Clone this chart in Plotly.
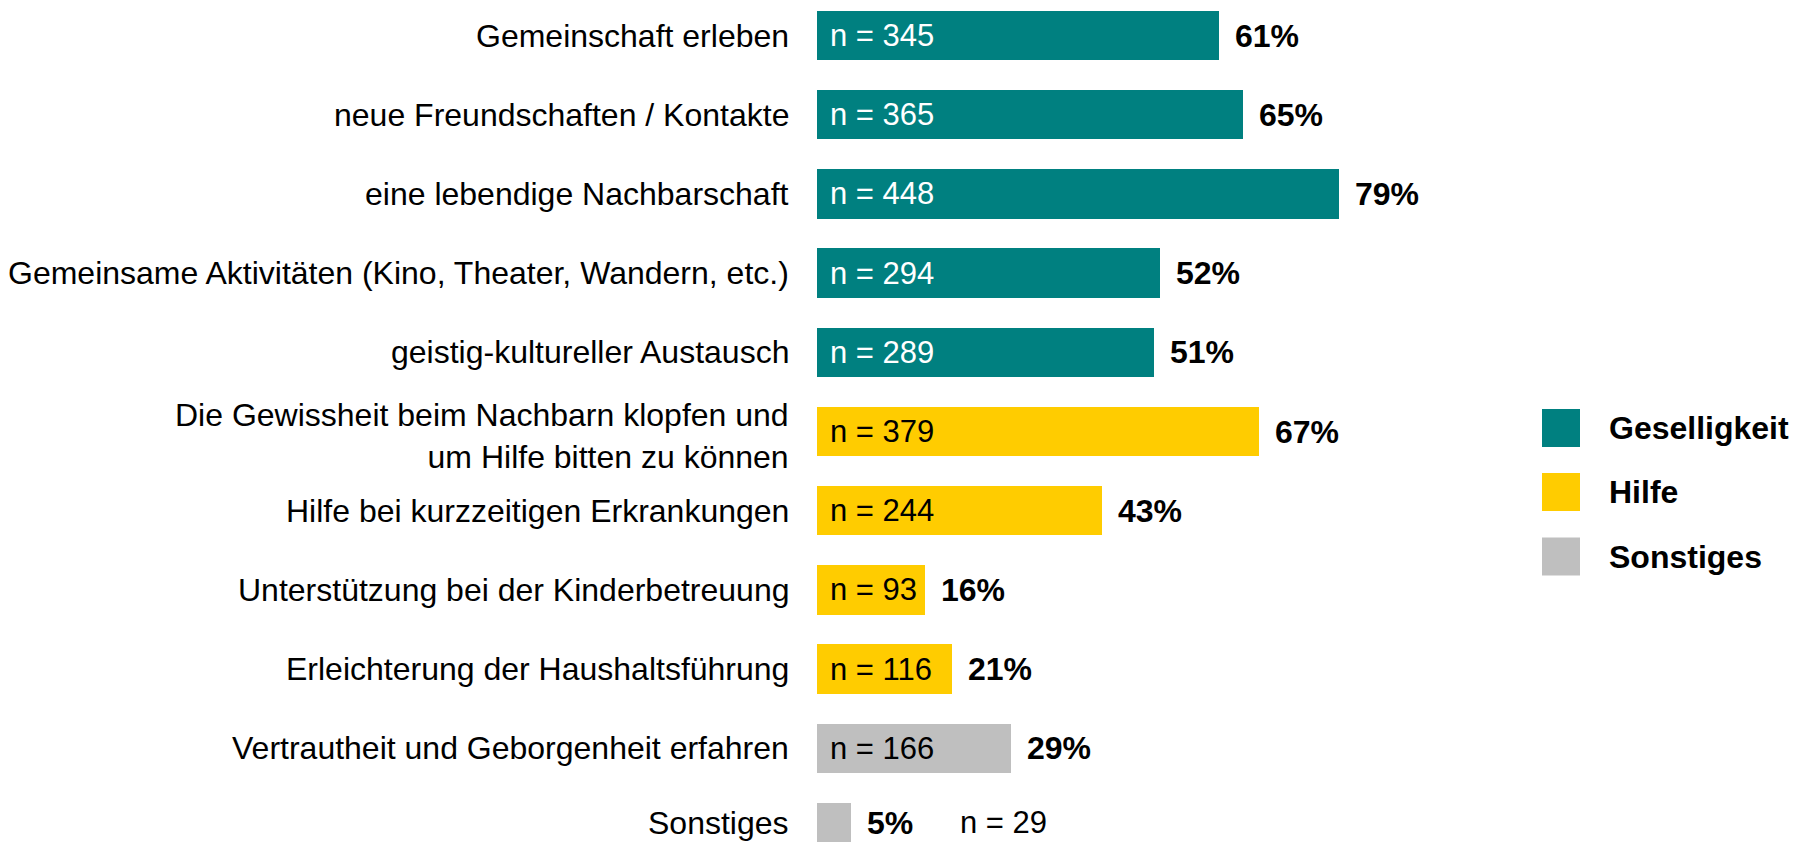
import plotly.graph_objects as go

# ---- data ----
labels = [
    "Gemeinschaft erleben",
    "neue Freundschaften / Kontakte",
    "eine lebendige Nachbarschaft",
    "Gemeinsame Aktivitäten (Kino, Theater, Wandern, etc.)",
    "geistig-kultureller Austausch",
    "Die Gewissheit beim Nachbarn klopfen und<br>um Hilfe bitten zu können",
    "Hilfe bei kurzzeitigen Erkrankungen",
    "Unterstützung bei der Kinderbetreuung",
    "Erleichterung der Haushaltsführung",
    "Vertrautheit und Geborgenheit erfahren",
    "Sonstiges",
]
n_values = [345, 365, 448, 294, 289, 379, 244, 93, 116, 166, 29]
pct_values = [61, 65, 79, 52, 51, 67, 43, 16, 21, 29, 5]
groups = ["Geselligkeit"] * 5 + ["Hilfe"] * 4 + ["Sonstiges"] * 2
legend_items = ["Geselligkeit", "Hilfe", "Sonstiges"]

colors = {"Geselligkeit": "#008080", "Hilfe": "#FFCC00", "Sonstiges": "#BFBFBF"}
text_colors = {"Geselligkeit": "white", "Hilfe": "black", "Sonstiges": "black"}

W, H = 1793, 842
L, R = 817, 293
FONT = "Liberation Sans, Arial, Helvetica, sans-serif"
FS_LABEL = 32
FS_N = 31
FS_PCT = 32

ypos = list(range(len(labels)))

fig = go.Figure()
fig.add_trace(go.Bar(
    x=n_values, y=ypos, orientation="h",
    marker=dict(color=[colors[g] for g in groups], line=dict(width=0)),
    width=0.6225, showlegend=False, hoverinfo="skip",
))

annotations = []
last = len(labels) - 1
for i, (lab, n, p, g) in enumerate(zip(labels, n_values, pct_values, groups)):
    ys = 5 if i == last else 0
    lab_ys = -4 if "<br>" in lab else ys
    # category label
    annotations.append(dict(
        x=0, y=i, xref="x", yref="y", text=lab, showarrow=False,
        xanchor="right", yanchor="middle", align="right", xshift=-26, yshift=lab_ys,
        font=dict(family=FONT, size=FS_LABEL, color="black"),
    ))
    # percent label
    annotations.append(dict(
        x=n, y=i, xref="x", yref="y", text=f"<b>{p}%</b>", showarrow=False,
        xanchor="left", yanchor="middle", xshift=14, yshift=ys,
        font=dict(family=FONT, size=FS_PCT, color="black"),
    ))
    # n label
    if n >= 60:
        annotations.append(dict(
            x=0, y=i, xref="x", yref="y", text=f"n = {n}", showarrow=False,
            xanchor="left", yanchor="middle", xshift=11,
            font=dict(family=FONT, size=FS_N, color=text_colors[g]),
        ))
    else:
        annotations.append(dict(
            x=n, y=i, xref="x", yref="y", text=f"n = {n}", showarrow=False,
            xanchor="left", yanchor="middle", xshift=107, yshift=ys,
            font=dict(family=FONT, size=FS_N, color="black"),
        ))

# manual legend (large square swatches)
plot_w = W - L - R
def px_x(px):
    return (px - L) / plot_w
def px_y(py):
    return 1 - py / H

shapes = []
leg_centers = [428, 492, 556.5]
for item, cy in zip(legend_items, leg_centers):
    shapes.append(dict(
        type="rect", xref="paper", yref="paper",
        x0=px_x(1542), x1=px_x(1580), y0=px_y(cy + 19), y1=px_y(cy - 19),
        fillcolor=colors[item], line=dict(width=0),
    ))
    annotations.append(dict(
        x=px_x(1607), y=px_y(cy), xref="paper", yref="paper",
        text=f"<b>{item}</b>", showarrow=False, xanchor="left", yanchor="middle",
        font=dict(family=FONT, size=FS_PCT, color="black"),
    ))

row_h = 79.2
top_c = 35.5
fig.update_layout(
    width=W, height=H,
    margin=dict(l=L, r=R, t=0, b=0, pad=0),
    paper_bgcolor="white", plot_bgcolor="white",
    xaxis=dict(range=[0, plot_w / 1.166], showgrid=False, zeroline=False,
               showticklabels=False, ticks="", showline=False),
    yaxis=dict(range=[(H - top_c) / row_h, -top_c / row_h],
               showticklabels=False, ticks="", showgrid=False,
               zeroline=False, showline=False),
    annotations=annotations, shapes=shapes,
    bargap=0,
)

fig.write_html("out.html", config={"displayModeBar": False},
               post_script="document.body.style.margin='0';")
